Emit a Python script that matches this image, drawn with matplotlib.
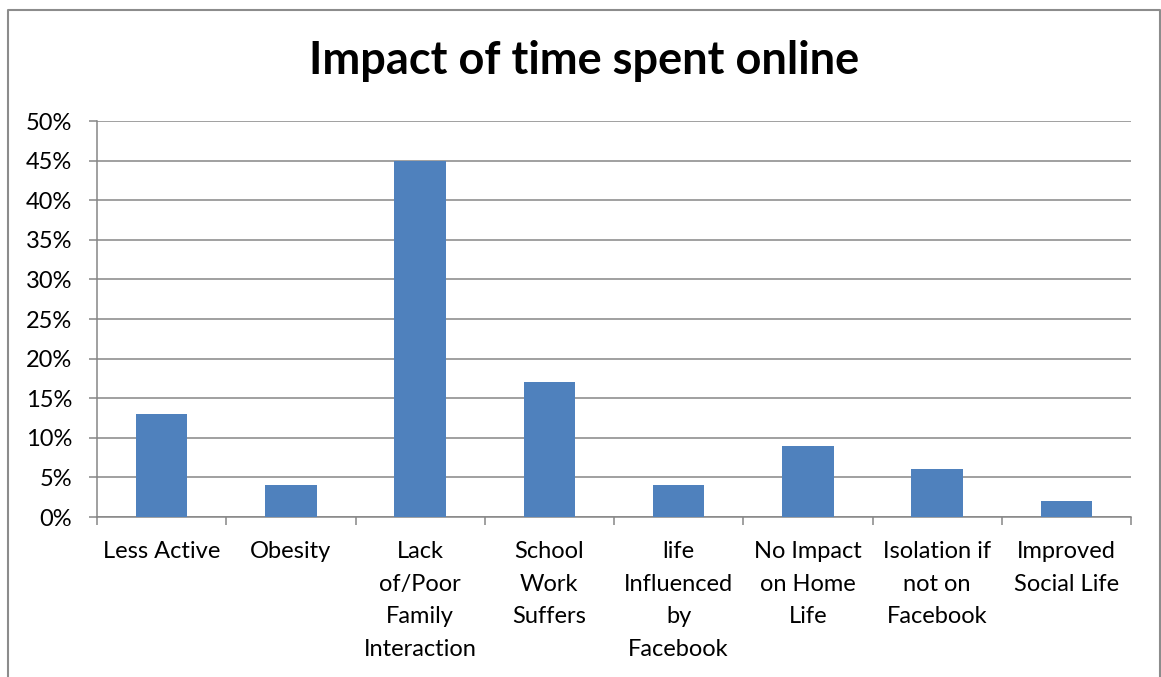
import numpy as np
import matplotlib.pyplot as plt
from matplotlib.lines import Line2D
from matplotlib.ticker import PercentFormatter

plt.rcParams['font.family'] = ['Lato', 'DejaVu Sans']

categories = ['Less Active', 'Obesity', 'Lack\nof/Poor\nFamily\nInteraction',
              'School\nWork\nSuffers', 'life\nInfluenced\nby\nFacebook',
              'No Impact\non Home\nLife', 'Isolation if\nnot on\nFacebook',
              'Improved\nSocial Life']
values = [13, 4, 45, 17, 4, 9, 6, 2]
yticks = [0, 5, 10, 15, 20, 25, 30, 35, 40, 45, 50]

W, H = 1161, 677
fig = plt.figure(figsize=(W / 100, H / 100), dpi=100)
ax = fig.add_axes([97 / W, 1 - 517 / H, (1131 - 97) / W, (517 - 121) / H])

grid_c = '#868686'
x = np.arange(len(categories))
ax.bar(x, values, width=0.4, color='#4F81BD', zorder=3)

ax.set_xlim(-0.5, len(categories) - 0.5)
ax.set_ylim(0, 50)
ax.set_yticks(yticks)
ax.yaxis.set_major_formatter(PercentFormatter(decimals=0))
ax.grid(axis='y', color=grid_c, linewidth=1.1, zorder=1)

ax.set_xticks(x)
ax.set_xticklabels(categories, linespacing=1.7)
ax.set_xticks(np.arange(-0.5, len(categories)), minor=True)
ax.tick_params(axis='x', which='major', length=0, pad=17, labelsize=17)
ax.tick_params(axis='x', which='minor', length=6, width=1.1, color=grid_c)
ax.tick_params(axis='y', length=6, width=1.1, color=grid_c, labelsize=17, pad=12)

for side in ['top', 'right']:
    ax.spines[side].set_visible(False)
for side in ['left', 'bottom']:
    ax.spines[side].set_color(grid_c)
    ax.spines[side].set_linewidth(1.1)

fig.text(584 / W, 1 - 61 / H, 'Impact of time spent online', ha='center', va='center',
         fontsize=32.5, fontweight='bold')

# outer chart frame
bx0, bx1, by0 = 8 / W, 1160 / W, 1 - 10 / H
fig.add_artist(Line2D([bx0, bx0, bx1, bx1], [-0.01, by0, by0, -0.01],
                      color='#8C8C8C', linewidth=1.5, transform=fig.transFigure))

fig.savefig('out.png', dpi=100)
